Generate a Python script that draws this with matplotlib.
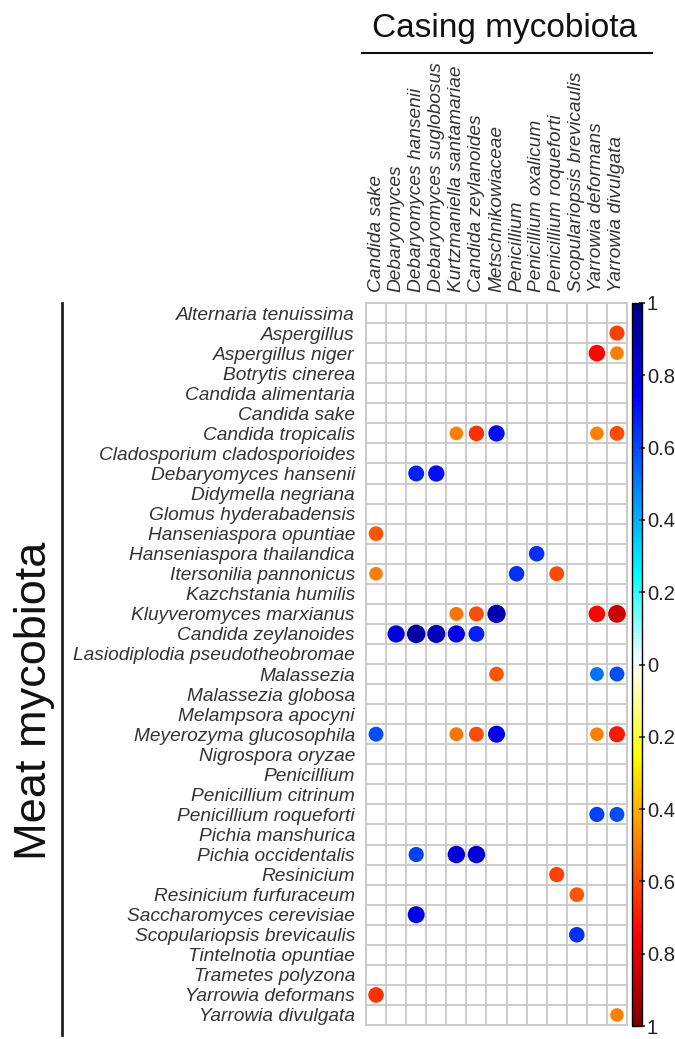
import numpy as np
import matplotlib
matplotlib.use("Agg")
import matplotlib.pyplot as plt
from matplotlib.colors import LinearSegmentedColormap, Normalize
from matplotlib.cm import ScalarMappable

plt.rcParams['font.family'] = ['Liberation Sans', 'DejaVu Sans']

casing = ['Candida sake', 'Debaryomyces', 'Debaryomyces hansenii',
          'Debaryomyces suglobosus', 'Kurtzmaniella santamariae',
          'Candida zeylanoides', 'Metschnikowiaceae', 'Penicillium',
          'Penicillium oxalicum', 'Penicillium roqueforti',
          'Scopulariopsis brevicaulis', 'Yarrowia deformans',
          'Yarrowia divulgata']

meat = ['Alternaria tenuissima', 'Aspergillus', 'Aspergillus niger',
        'Botrytis cinerea', 'Candida alimentaria', 'Candida sake',
        'Candida tropicalis', 'Cladosporium cladosporioides',
        'Debaryomyces hansenii', 'Didymella negriana',
        'Glomus hyderabadensis', 'Hanseniaspora opuntiae',
        'Hanseniaspora thailandica', 'Itersonilia pannonicus',
        'Kazchstania humilis', 'Kluyveromyces marxianus',
        'Candida zeylanoides', 'Lasiodiplodia pseudotheobromae',
        'Malassezia', 'Malassezia globosa', 'Melampsora apocyni',
        'Meyerozyma glucosophila', 'Nigrospora oryzae', 'Penicillium',
        'Penicillium citrinum', 'Penicillium roqueforti',
        'Pichia manshurica', 'Pichia occidentalis', 'Resinicium',
        'Resinicium furfuraceum', 'Saccharomyces cerevisiae',
        'Scopulariopsis brevicaulis', 'Tintelnotia opuntiae',
        'Trametes polyzona', 'Yarrowia deformans', 'Yarrowia divulgata']

# significant correlations only (row index in meat, column index in casing)
dot_rows = [1, 2, 2, 6, 6, 6, 6, 6, 8, 8, 11, 12, 13, 13, 13,
            15, 15, 15, 15, 15, 16, 16, 16, 16, 16, 18, 18, 18,
            21, 21, 21, 21, 21, 21, 25, 25, 27, 27, 27, 28, 29,
            30, 31, 34, 35]
dot_cols = [12, 11, 12, 4, 5, 6, 11, 12, 2, 3, 0, 8, 0, 7, 9,
            4, 5, 6, 11, 12, 1, 2, 3, 4, 5, 6, 11, 12,
            0, 4, 5, 6, 11, 12, 11, 12, 2, 4, 5, 9, 10,
            2, 10, 0, 12]
dot_vals = [-0.62, -0.74, -0.5, -0.5, -0.65, 0.72, -0.5, -0.6, 0.68, 0.72,
            -0.58, 0.65, -0.5, 0.65, -0.6,
            -0.52, -0.6, 0.9, -0.74, -0.85, 0.8, 0.92, 0.88, 0.8, 0.68,
            -0.58, 0.52, 0.6,
            0.6, -0.52, -0.6, 0.78, -0.5, -0.7, 0.62, 0.6,
            0.62, 0.82, 0.82, -0.62, -0.58, 0.78, 0.65, -0.65, -0.5]

cmap = LinearSegmentedColormap.from_list(
    'col1', ['#7F0000', 'red', '#FF7F00', 'yellow', 'white',
             'cyan', '#007FFF', 'blue', '#00007F'])
norm = Normalize(-1, 1)

W, H = 675, 1039
fig = plt.figure(figsize=(W / 100, H / 100), dpi=100)
ax = fig.add_axes([366 / W, 1 - 1025 / H, 261 / W, 722 / H])

cell_px = 261 / 13
vals = np.array(dot_vals)
radius_px = 0.48 * np.sqrt(np.abs(vals)) * cell_px
sizes = (2 * radius_px * 72 / 100) ** 2
ax.scatter(dot_cols, dot_rows, s=sizes, c=vals, cmap=cmap, norm=norm,
           edgecolors='none', zorder=3)

ax.set_xlim(-0.5, len(casing) - 0.5)
ax.set_ylim(len(meat) - 0.5, -0.5)
ax.set_xticks(np.arange(len(casing) + 1) - 0.5, minor=True)
ax.set_yticks(np.arange(len(meat) + 1) - 0.5, minor=True)
ax.grid(which='minor', color='#C8C8C8', lw=1.3)
ax.tick_params(which='minor', length=0)

ax.set_xticks(range(len(casing)))
ax.set_xticklabels(casing, rotation=90, style='italic', fontsize=13.8,
                   color='#333333')
ax.xaxis.tick_top()
ax.set_yticks(range(len(meat)))
ax.set_yticklabels(meat, style='italic', fontsize=13.8, color='#333333')
ax.tick_params(which='major', length=0, pad=8)
for s in ax.spines.values():
    s.set_color('#C8C8C8')
    s.set_linewidth(1.3)

cax = fig.add_axes([632 / W, 1 - 1026 / H, 10 / W, 723 / H])
cb = fig.colorbar(ScalarMappable(norm=norm, cmap=cmap), cax=cax)
ticks = np.linspace(-1, 1, 11)
cb.set_ticks(ticks)
cb.set_ticklabels(['%g' % abs(round(t, 1)) for t in ticks])
cax.tick_params(labelsize=14.5, length=5, direction='inout', pad=1,
                width=1.2, colors='#222222')
cb.outline.set_linewidth(1)

fig.text(505 / W, 1 - 28 / H, 'Casing mycobiota', fontsize=24,
         ha='center', va='center', color='#111111')
fig.add_artist(plt.Line2D([362 / W, 652 / W], [1 - 53 / H, 1 - 53 / H],
                          color='#111111', lw=1.5))
fig.text(35 / W, 1 - 701 / H, 'Meat mycobiota', fontsize=32.5, rotation=90,
         ha='center', va='center', color='#111111')
fig.add_artist(plt.Line2D([62 / W, 62 / W], [1 - 303 / H, 1 - 1035 / H],
                          color='#222222', lw=2))

fig.savefig('out.png', dpi=100)
